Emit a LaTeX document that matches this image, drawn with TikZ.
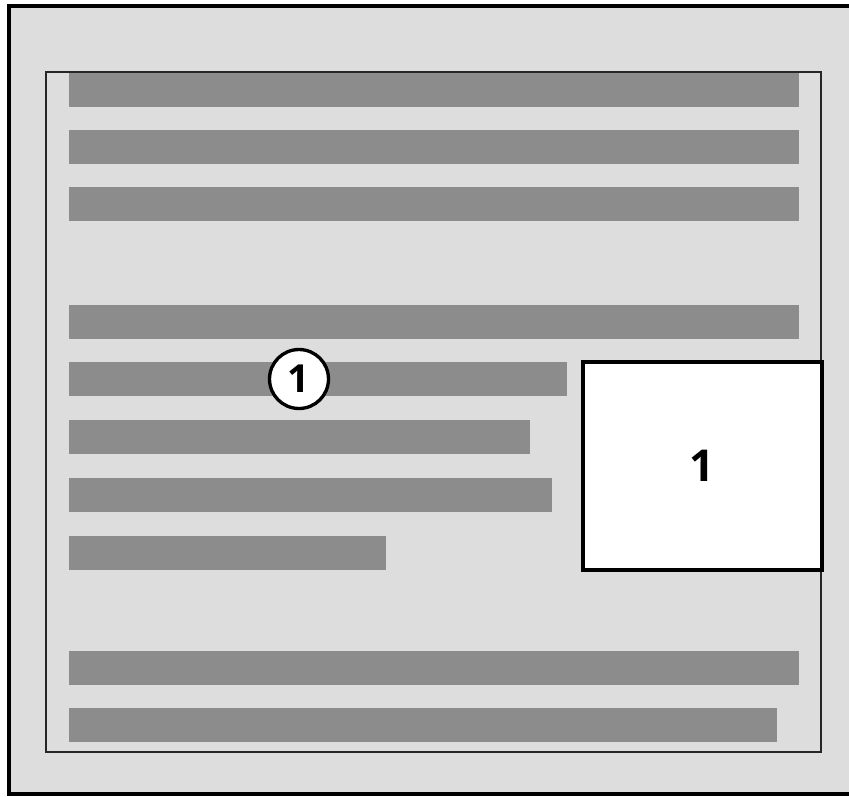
\documentclass[tikz,border=0pt]{standalone}
\usepackage{fontspec}
\setmainfont{Open Sans}
\definecolor{pagegray}{HTML}{DDDDDD}
\definecolor{bargray}{HTML}{8C8C8C}

\begin{document}
\begin{tikzpicture}[x=0.02cm, y=-0.02cm,
  textbar/.style={fill=bargray},
  figbox/.style={draw, fill=white, line width=2.3pt, minimum width=4.78cm, minimum height=4.16cm, inner sep=0pt, font=\fontsize{25}{25}\bfseries},
  callout/.style={circle, draw, fill=white, line width=1.9pt, minimum size=1.18cm, inner sep=0pt, font=\fontsize{22}{22}\bfseries}]
  \useasboundingbox (0,0) rectangle (849,796);
  \clip (0,0) rectangle (849,796);
  % page and text area
  \draw[fill=pagegray, line width=2pt] (9,6) rectangle (870,794);
  \draw[line width=1pt, black!85] (46,72) rectangle (821,752);
  % lines of text: top, right end
  \foreach \top/\right in {73/799, 130/799, 187/799, 305/799, 362/567,
                           420/530, 478/552, 536/386, 651/799, 708/777}
    \fill[textbar] (69,\top) rectangle (\right,\top+34);
  % figure and its callout
  \node[figbox] (fig) at (702.5,466) {1};
  \node[callout] (mark) at (299,379) {1};
\end{tikzpicture}
\end{document}
